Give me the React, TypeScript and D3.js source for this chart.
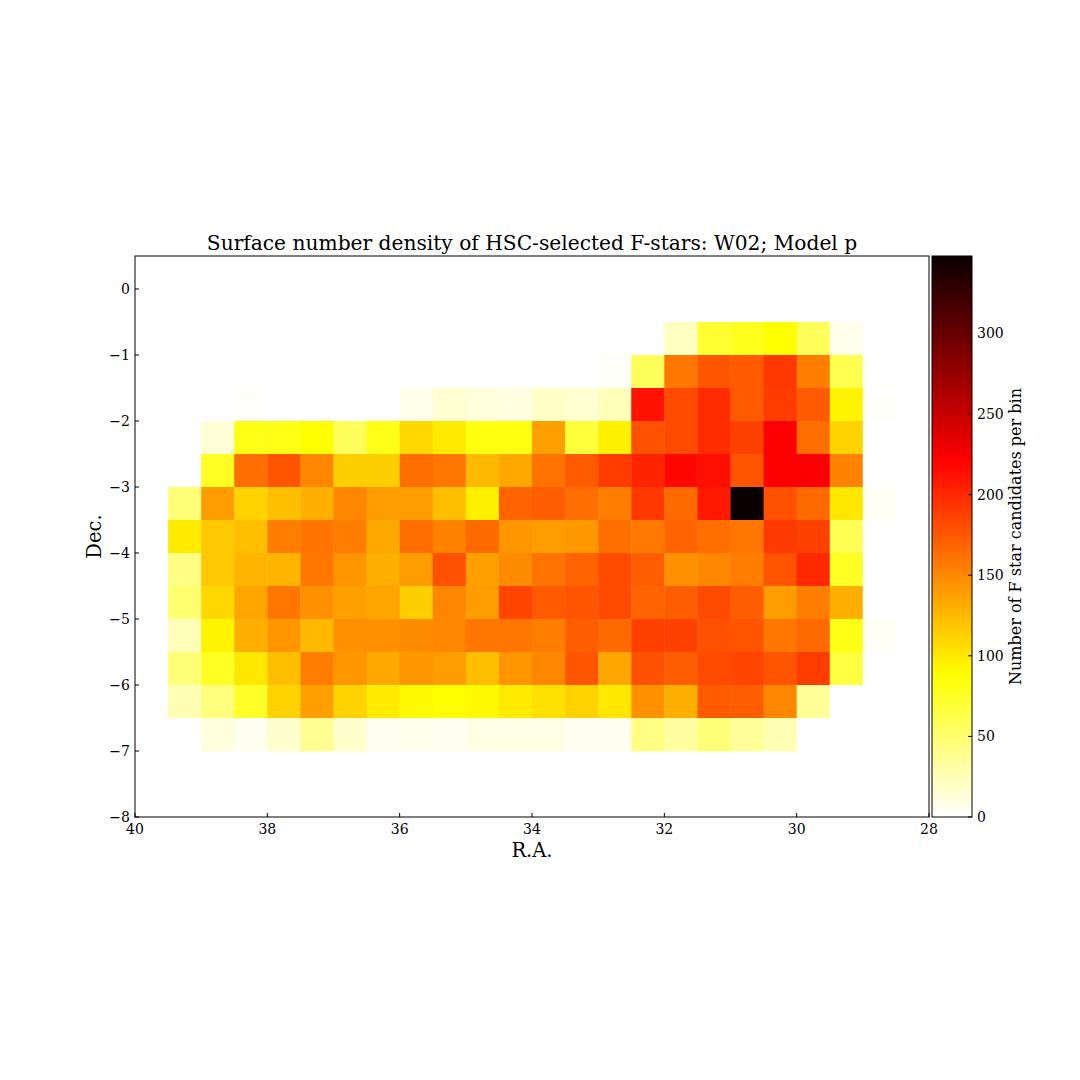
import React from "react";
import * as d3 from "d3";

// R.A. bin left edges (deg) and Dec. bin top edges (deg), bin size 0.5 deg
const raBins = [39.5, 39, 38.5, 38, 37.5, 37, 36.5, 36, 35.5, 35, 34.5, 34, 33.5, 33, 32.5, 32, 31.5, 31, 30.5, 30, 29.5, 29];
const decBins = [-0.5, -1, -1.5, -2, -2.5, -3, -3.5, -4, -4.5, -5, -5.5, -6, -6.5];
const binSize = 0.5;

// Number of F star candidates per bin (rows = Dec. bins, cols = R.A. bins)
const counts: number[][] = [
  [0, 0, 0, 0, 0, 0, 0, 0, 0, 0, 0, 0, 0, 0, 0, 22, 71, 78, 88, 57, 7, 0],
  [0, 0, 0, 0, 0, 0, 0, 0, 0, 0, 0, 0, 0, 2, 57, 159, 177, 174, 192, 156, 61, 0],
  [0, 0, 1, 0, 0, 0, 0, 7, 16, 12, 10, 19, 16, 24, 211, 182, 198, 174, 190, 174, 94, 2],
  [0, 14, 81, 81, 89, 57, 80, 109, 99, 83, 83, 138, 68, 96, 179, 182, 198, 187, 222, 164, 112, 0],
  [0, 76, 164, 177, 151, 114, 114, 164, 159, 125, 133, 161, 174, 190, 203, 218, 213, 177, 222, 223, 153, 0],
  [47, 140, 112, 122, 130, 151, 140, 140, 122, 96, 169, 172, 164, 156, 192, 166, 208, 348, 179, 166, 101, 3],
  [99, 117, 122, 156, 160, 156, 133, 164, 153, 166, 143, 140, 142, 163, 158, 169, 163, 159, 191, 187, 59, 0],
  [43, 117, 127, 127, 159, 143, 130, 140, 179, 138, 148, 161, 169, 182, 172, 146, 151, 156, 177, 200, 76, 0],
  [50, 109, 135, 159, 146, 138, 135, 114, 151, 140, 185, 174, 177, 182, 169, 172, 182, 172, 140, 156, 130, 0],
  [24, 94, 130, 143, 125, 146, 146, 148, 151, 159, 159, 156, 172, 166, 187, 187, 179, 177, 159, 166, 81, 3],
  [47, 76, 101, 122, 156, 143, 133, 143, 140, 122, 143, 151, 177, 135, 179, 172, 182, 185, 177, 190, 66, 0],
  [26, 45, 75, 112, 138, 112, 99, 91, 88, 91, 99, 104, 112, 101, 146, 130, 174, 172, 151, 36, 0, 0],
  [0, 12, 5, 17, 38, 17, 5, 7, 5, 9, 9, 9, 5, 5, 43, 33, 47, 35, 26, 0, 0, 0],
];

const xTicks = [40, 38, 36, 34, 32, 30, 28];
const yTicks = [0, -1, -2, -3, -4, -5, -6, -7, -8];
const cbTicks = [0, 50, 100, 150, 200, 250, 300];

const titleText = "Surface number density of HSC-selected F-stars: W02; Model p";
const xLabel = "R.A.";
const yLabel = "Dec.";
const cbLabel = "Number of F star candidates per bin";

// matplotlib "hot" colormap, reversed
function hot(s: number): string {
  const r = s < 0.365079 ? 0.0416 + (1 - 0.0416) * (s / 0.365079) : 1;
  const g = s < 0.365079 ? 0 : s < 0.746032 ? (s - 0.365079) / (0.746032 - 0.365079) : 1;
  const b = s < 0.746032 ? 0 : (s - 0.746032) / (1 - 0.746032);
  return d3.rgb(r * 255, g * 255, b * 255).formatHex();
}
const hotR = (t: number) => hot(1 - Math.max(0, Math.min(1, t)));

const FONT = "'DejaVu Serif', serif";

export default function App() {
  const left = 135, right = 929, top = 256, bottom = 817;
  const x = d3.scaleLinear().domain([40, 28]).range([left, right]);
  const y = d3.scaleLinear().domain([0.5, -8]).range([top, bottom]);
  const vmax = d3.max(counts.flat()) as number;
  const cbL = 932, cbR = 972;
  const cy = d3.scaleLinear().domain([0, vmax]).range([bottom, top]);

  const cells: React.ReactNode[] = [];
  counts.forEach((row, ri) => {
    row.forEach((v, ci) => {
      const ra0 = raBins[ci];
      const dec0 = decBins[ri];
      const x0 = x(ra0), x1 = x(ra0 - binSize);
      const y0 = y(dec0), y1 = y(dec0 - binSize);
      cells.push(
        <rect key={`${ri}-${ci}`} x={x0} y={y0} width={x1 - x0 + 0.4} height={y1 - y0 + 0.4}
          fill={hotR(v / vmax)} />
      );
    });
  });

  const stops = d3.range(0, 1.0001, 0.02).map((t) => (
    <stop key={t} offset={`${t * 100}%`} stopColor={hotR(1 - t)} />
  ));

  return (
    <svg width={1080} height={1080} style={{ position: "absolute", left: 0, top: 0, background: "#fff" }}
      fontFamily={FONT}>
      <defs>
        <linearGradient id="cbgrad" x1="0" y1="0" x2="0" y2="1">{stops}</linearGradient>
      </defs>
      <rect x={0} y={0} width={1080} height={1080} fill="#fff" />
      {cells}
      <rect x={left} y={top} width={right - left} height={bottom - top} fill="none" stroke="#000" strokeWidth={1} />
      {xTicks.map((t) => (
        <g key={`xt${t}`}>
          <line x1={x(t)} x2={x(t)} y1={bottom} y2={bottom - 4} stroke="#000" />
          <text x={x(t)} y={bottom + 17} textAnchor="middle" fontSize={14}>{t}</text>
        </g>
      ))}
      {yTicks.map((t) => (
        <g key={`yt${t}`}>
          <line x1={left} x2={left + 4} y1={y(t)} y2={y(t)} stroke="#000" />
          <text x={left - 5} y={y(t) + 5} textAnchor="end" fontSize={14}>{t < 0 ? `\u2212${-t}` : t}</text>
        </g>
      ))}
      <text x={(left + right) / 2} y={250} textAnchor="middle" fontSize={20.2}>{titleText}</text>
      <text x={(left + right) / 2} y={857} textAnchor="middle" fontSize={19.5}>{xLabel}</text>
      <text transform={`translate(101,${(top + bottom) / 2}) rotate(-90)`} textAnchor="middle" fontSize={19.5}>{yLabel}</text>

      <rect x={cbL} y={top} width={cbR - cbL} height={bottom - top} fill="url(#cbgrad)" stroke="#000" strokeWidth={1} />
      {cbTicks.map((t) => (
        <g key={`ct${t}`}>
          <line x1={cbR} x2={cbR - 4} y1={cy(t)} y2={cy(t)} stroke="#000" />
          <text x={cbR + 5} y={cy(t) + 5} textAnchor="start" fontSize={14}>{t}</text>
        </g>
      ))}
      <text transform={`translate(1021,${(top + bottom) / 2}) rotate(-90)`} textAnchor="middle" fontSize={16}>{cbLabel}</text>
    </svg>
  );
}
